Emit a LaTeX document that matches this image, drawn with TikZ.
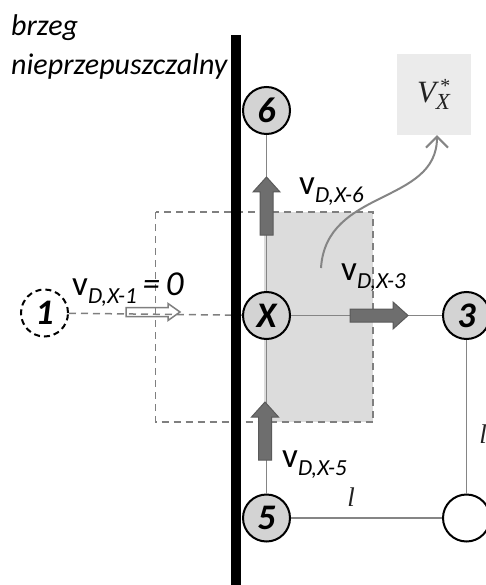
\documentclass[tikz,border=0pt]{standalone}
\usepackage{fontspec}
\setmainfont{Carlito}
\newfontfamily\serifit{Liberation Serif}
\usetikzlibrary{arrows.meta}
\definecolor{linegray}{HTML}{858585}
\definecolor{nodefill}{HTML}{D3D3D3}
\definecolor{shadegray}{HTML}{DCDCDC}
\definecolor{boxfill}{HTML}{EBEBEB}
\definecolor{arrfill}{HTML}{6E6E6E}
\definecolor{arrdraw}{HTML}{5A5A5A}
\definecolor{dashgray}{HTML}{7F7F7F}
\definecolor{textgray}{HTML}{222222}
\tikzset{
  circnode/.style={circle, draw=black, line width=2pt, fill=nodefill, minimum size=47pt, inner sep=0pt,
    font=\fontsize{36}{36}\selectfont\bfseries\itshape},
  emptynode/.style={circnode, fill=white},
  dashnode/.style={circnode, fill=none, dash pattern=on 6pt off 4pt},
  gridline/.style={draw=linegray, line width=1.6pt},
  dashline/.style={draw=dashgray, line width=1.5pt, dash pattern=on 7pt off 5pt},
  vlabel/.style={anchor=base west, inner sep=0pt},
  llabel/.style={inner sep=0pt, text=textgray, font=\fontsize{27}{27}\selectfont\serifit\itshape},
  fatarrow/.style={fill=arrfill, draw=arrdraw, line width=1pt},
  hollowarrow/.style={draw=dashgray, line width=1.5pt, fill=none},
  pics/fatarr/.style={code={\path[fatarrow] (0,-6.5) -- (43,-6.5) -- (43,-13.5) -- (58,0) -- (43,13.5) -- (43,6.5) -- (0,6.5) -- cycle;}},
  pics/hollowarr/.style={code={\path[hollowarrow] (0,-4.5) -- (42,-4.5) -- (42,-8.5) -- (54,0) -- (42,8.5) -- (42,4.5) -- (0,4.5) -- cycle;}}
}
\newcommand{\vlab}[1]{{\fontsize{35}{35}\selectfont v}\raisebox{-8pt}{\fontsize{23}{23}\selectfont\itshape #1}}
\begin{document}
\begin{tikzpicture}[x=1pt,y=-1pt]
\useasboundingbox (0,0) rectangle (486,585);
% shaded control area
\fill[shadegray] (264,212) rectangle (373,422);
% V box
\node[fill=boxfill, text=textgray, minimum width=74pt, minimum height=81pt, inner sep=0pt] (vbox) at (433.5,94.5)
  {\serifit\itshape\fontsize{31}{31}\selectfont V\rlap{\raisebox{10pt}{\fontsize{20}{20}\selectfont\,*}}\raisebox{-7pt}{\fontsize{23}{23}\selectfont X}};
% nodes
\node[circnode] (n6) at (266.5,110.5) {6};
\node[circnode] (nX) at (266.5,315.5) {X};
\node[circnode] (n3) at (466.5,315.5) {3};
\node[circnode] (n5) at (266.5,518) {5};
\node[emptynode] (nB) at (466.5,518) {};
\node[dashnode] (n1) at (44.5,313) {1};
% grid lines
\draw[gridline] (n6) -- (nX);
\draw[gridline] (nX) -- (n3);
\draw[gridline] (nX) -- (n5);
\draw[gridline] (n5) -- (nB);
\draw[gridline] (n3) -- (nB);
\draw[dashline] (n1) -- (nX);
% dashed control volume
\draw[dashline] (155.5,212) rectangle (373,422);
% wall
\draw[line width=10pt] (235.7,35) -- (235.7,585);
% thick arrows
\pic[rotate=90] at (266.5,235) {fatarr};
\pic at (350,315.5) {fatarr};
\pic[rotate=90] at (265,460) {fatarr};
\pic at (126,312) {hollowarr};
% curved arrow
\coordinate (cstart) at (321,268);
\draw[draw=linegray, line width=2pt, -{Straight Barb[length=11pt,width=22pt,line width=2pt]}] (cstart) .. controls (326,188) and (437,205) .. (vbox.south -| 437,0);
% labels
\node[vlabel] (l6) at (299,195) {\vlab{D,X-6}};
\node[vlabel] (l3) at (341,280) {\vlab{D,X-3}};
\node[vlabel] (l5) at (282,467) {\vlab{D,X-5}};
\node[vlabel] (l1) at (72,295) {\vlab{D,X-1}{\fontsize{35}{35}\selectfont\itshape\,=\,0}};
\node[llabel] (lh) at (351,497) {l};
\node[llabel] (lv) at (483,434) {l};
\node[anchor=north west, inner sep=0pt, align=left, font=\fontsize{30}{39}\selectfont\itshape] (wall) at (11,14) {brzeg\\nieprzepuszczalny};
\end{tikzpicture}
\end{document}
